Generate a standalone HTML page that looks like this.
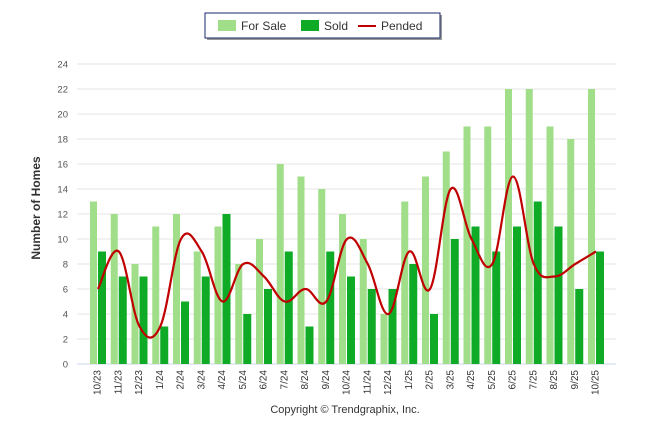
<!DOCTYPE html>
<html><head><meta charset="utf-8"><style>
body{margin:0;background:#fff;width:646px;height:434px;overflow:hidden;font-family:"Liberation Sans",sans-serif}
</style></head><body>
<svg id="c" width="646" height="434" xmlns="http://www.w3.org/2000/svg" font-family="Liberation Sans, sans-serif"></svg>
<script>
const categories=["10/23","11/23","12/23","1/24","2/24","3/24","4/24","5/24","6/24","7/24","8/24","9/24","10/24","11/24","12/24","1/25","2/25","3/25","4/25","5/25","6/25","7/25","8/25","9/25","10/25"];
const forSale=[13,12,8,11,12,9,11,8,10,16,15,14,12,10,4,13,15,17,19,19,22,22,19,18,22];
const sold=[9,7,7,3,5,7,12,4,6,9,3,9,7,6,6,8,4,10,11,9,11,13,11,6,9];
const pended=[6,9,3,3,10,9,5,8,7,5,6,5,10,8,4,9,6,14,10,8,15,8,7,8,9];
const yTicks=[0,2,4,6,8,10,12,14,16,18,20,22,24];
const NS="http://www.w3.org/2000/svg",svg=document.getElementById('c');
function mk(t,a,p){const e=document.createElementNS(NS,t);for(const k in a)e.setAttribute(k,a[k]);(p||svg).appendChild(e);return e;}
const y=v=>364-v*12.5;
const x=i=>97+i*20.75;
for(const t of yTicks){
 const g=mk('line',{x1:77,x2:616,y1:y(t),y2:y(t),stroke:t?'#e6e6e6':'#ccd6eb','stroke-width':1});
 
 const l=mk('text',{x:68,y:y(t)+3.5,'text-anchor':'end','font-size':9.5,fill:'#555'});l.textContent=t;
 
}
categories.forEach((c,i)=>{
 const b=mk('rect',{x:x(i)-7,y:y(forSale[i]),width:7,height:forSale[i]*12.5,fill:'#a0de8a'});
 
 const s=mk('rect',{x:x(i)+1,y:y(sold[i]),width:8,height:sold[i]*12.5,fill:'#0fab27'});
 
 const t=mk('text',{transform:`translate(${x(i)+3.5},370) rotate(-90)`,'text-anchor':'end','font-size':10,fill:'#333'});t.textContent=c;
 
});
const pts=pended.map((v,i)=>[x(i)+1,y(v)]);
let d='M'+pts[0][0]+','+pts[0][1];
for(let i=0;i<pts.length-1;i++){
 const p0=pts[Math.max(0,i-1)],p1=pts[i],p2=pts[i+1],p3=pts[Math.min(pts.length-1,i+2)];
 const k=1/5.5;
 d+=` C${p1[0]+(p2[0]-p0[0])*k},${p1[1]+(p2[1]-p0[1])*k} ${p2[0]-(p3[0]-p1[0])*k},${p2[1]-(p3[1]-p1[1])*k} ${p2[0]},${p2[1]}`;
}
const ln=mk('path',{d:d,fill:'none',stroke:'#c00000','stroke-width':2.2});

const yt=mk('text',{transform:'translate(40,208) rotate(-90)','text-anchor':'middle','font-size':12,'font-weight':'bold',fill:'#333'});yt.textContent='Number of Homes';

const cp=mk('text',{x:345,y:413,'text-anchor':'middle','font-size':11,fill:'#333'});cp.textContent='Copyright © Trendgraphix, Inc.';

const lg=mk('g',{});
mk('rect',{x:207,y:15,width:235,height:25,fill:'#999'},lg);
mk('rect',{x:205,y:13,width:235,height:25,fill:'#fff',stroke:'#1a2a6c','stroke-width':1},lg);
const items=[['For Sale','#a0de8a',218,'rect'],['Sold','#0fab27',301,'rect'],['Pended','#c00000',358,'line']];
for(const [n,col,lx,typ] of items){
 const g=mk('g',{},lg);
 if(typ==='rect')mk('rect',{x:lx,y:20,width:18,height:11,fill:col},g);
 else mk('line',{x1:lx,x2:lx+18,y1:26,y2:26,stroke:col,'stroke-width':2},g);
 const t=mk('text',{x:lx+23,y:30,'font-size':12,fill:'#333'},g);t.textContent=n;
}
</script>
</body></html>
